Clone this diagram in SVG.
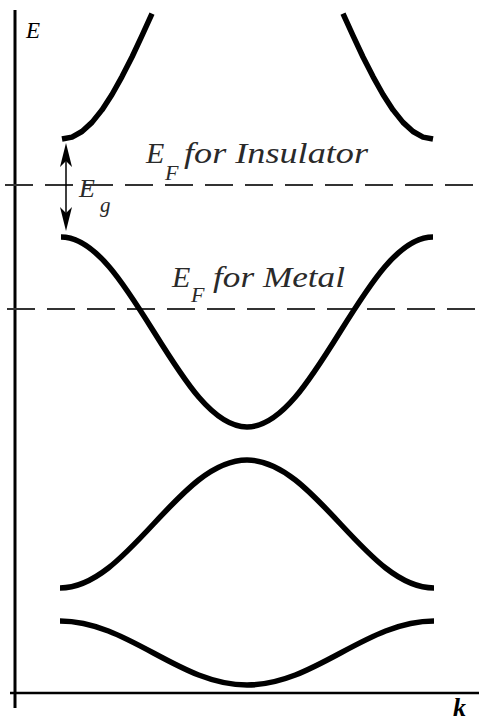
<svg xmlns="http://www.w3.org/2000/svg" width="479" height="723" viewBox="0 0 479 723">
<style>
.band{fill:none;stroke:#000;stroke-width:5.5;stroke-linecap:butt;stroke-linejoin:round}
.axis{stroke:#000;fill:none}
.dash{stroke:#333;stroke-width:2;stroke-dasharray:28 12;fill:none}
text{font-family:'Liberation Serif','Times New Roman',serif;font-style:italic}
.lbl{fill:#2a2a2a}
.ax{fill:#000}
</style>
<rect width="479" height="723" fill="#fff"/>
<g id="axes">
<line class="axis" x1="15" y1="10" x2="15" y2="708" stroke-width="3"/>
<line class="axis" x1="10" y1="693" x2="479" y2="693" stroke-width="2.5"/>
<text class="ax" x="26" y="38" font-size="23">E</text>
<text class="ax" x="453" y="716" font-size="26" font-weight="bold">k</text>
</g>
<g id="fermi-levels">
<line class="dash" x1="5" y1="185" x2="479" y2="185"/>
<line class="dash" x1="7" y1="309" x2="479" y2="309"/>
</g>
<g id="band1">
<polyline class="band" points="62,139 72,137.1 82,131.5 92,122.4 102,109.9 112,94.5 122,76.6 132,57 142,35.6 152,13.6"/>
<polyline class="band" points="433,139 423,137.1 413,131.5 403,122.4 393,109.9 383,94.5 373,76.6 363,57 353,35.6 343,13.6"/>
</g>
<g id="band2">
<path class="band" d="M61,237 C128.7,237 179.3,427 247,427 C314.7,427 365.3,237 433,237"/>
</g>
<g id="band3">
<path class="band" d="M60,588 C128,588 179,460 247,460 C315,460 366,588 434,588"/>
</g>
<g id="band4">
<path class="band" d="M60,621 C128,621 179,685 247,685 C315,685 366,621 434,621"/>
</g>
<g id="gap">
<line x1="66" y1="152" x2="66" y2="222" stroke="#000" stroke-width="1.5"/>
<polygon points="66,143 72,167 66,161 60,167" fill="#000"/>
<polygon points="66,231 72,207 66,213 60,207" fill="#000"/>
<text class="lbl" x="79" y="197" font-size="26">E</text>
<text class="lbl" x="100" y="212" font-size="21">g</text>
</g>
<g id="label-insulator">
<text class="lbl" x="146" y="163" font-size="30">E</text>
<text class="lbl" x="165" y="180" font-size="22">F</text>
<text class="lbl" x="184" y="163" font-size="30" textLength="184" lengthAdjust="spacingAndGlyphs">for Insulator</text>
</g>
<g id="label-metal">
<text class="lbl" x="172" y="287" font-size="30">E</text>
<text class="lbl" x="191" y="302" font-size="22">F</text>
<text class="lbl" x="213" y="287" font-size="30" textLength="132" lengthAdjust="spacingAndGlyphs">for Metal</text>
</g>
</svg>
